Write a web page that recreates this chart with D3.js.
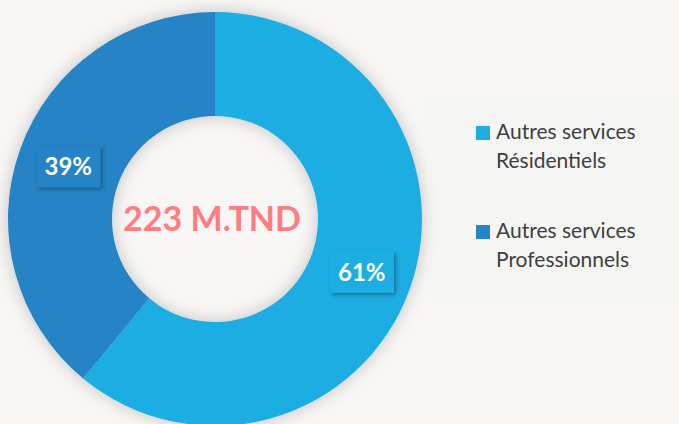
<!DOCTYPE html>
<html>
<head>
<meta charset="utf-8">
<script src="https://cdn.jsdelivr.net/npm/d3@7"></script>
<style>
  body { margin: 0; background: #f7f6f5; }
  svg { display: block; }
</style>
</head>
<body>
<svg id="chart" width="679" height="424"></svg>
<script>
var categories = ["Autres services Résidentiels", "Autres services Professionnels"];
var legendLines = [["Autres services", "Résidentiels"], ["Autres services", "Professionnels"]];
var values = [61, 39];
var colors = ["#1fade3", "#2784c6"];
var centerLabel = "223 M.TND";

var svg = d3.select("#chart");
var cx = 215, cy = 219, outerR = 207, innerR = 103;
var font = "Lato, 'Open Sans', sans-serif";

var defs = svg.append("defs");
var shadow = defs.append("filter").attr("id", "shadow")
    .attr("x", "-20%").attr("y", "-20%").attr("width", "140%").attr("height", "140%");
shadow.append("feDropShadow").attr("dx", 0).attr("dy", 0)
    .attr("stdDeviation", 8).attr("flood-color", "#000").attr("flood-opacity", 0.22);

var boxShadow = defs.append("filter").attr("id", "boxshadow")
    .attr("x", "-30%").attr("y", "-30%").attr("width", "160%").attr("height", "160%");
boxShadow.append("feDropShadow").attr("dx", 2).attr("dy", 2)
    .attr("stdDeviation", 2).attr("flood-color", "#000").attr("flood-opacity", 0.35);

// legend panel, barely visible
svg.append("rect")
    .attr("x", 430).attr("y", 97).attr("width", 249).attr("height", 200)
    .attr("fill", "#f5f5f4");

var pie = d3.pie().sort(null).value(function (d) { return d; });
var arcs = pie(values);
var arc = d3.arc().innerRadius(innerR).outerRadius(outerR);

var g = svg.append("g").attr("transform", "translate(" + cx + "," + cy + ")");

g.append("g").attr("filter", "url(#shadow)")
    .selectAll("path")
    .data(arcs)
    .enter().append("path")
    .attr("d", arc)
    .attr("fill", function (d, i) { return colors[i]; });

// percentage boxes
var labelArc = d3.arc().innerRadius(156).outerRadius(156);
arcs.forEach(function (d, i) {
    var p = labelArc.centroid(d);
    var lg = g.append("g").attr("transform", "translate(" + p[0] + "," + p[1] + ")");
    lg.append("rect")
        .attr("x", -32).attr("y", -21).attr("width", 64).attr("height", 42)
        .attr("fill", colors[i])
        .attr("filter", "url(#boxshadow)");
    lg.append("text")
        .attr("text-anchor", "middle")
        .attr("y", 9)
        .attr("fill", "#fff")
        .attr("font-family", font)
        .attr("font-weight", "bold")
        .attr("font-size", 24)
        .text(d3.format(".0f")(d.data) + "%");
});

g.append("text")
    .attr("text-anchor", "middle")
    .attr("x", -3)
    .attr("y", 12)
    .attr("fill", "#ff7c80")
    .attr("font-family", font)
    .attr("font-weight", "bold")
    .attr("font-size", 34)
    .text(centerLabel);

// legend
var legend = svg.append("g").attr("transform", "translate(476,126)");
var item = legend.selectAll("g")
    .data(categories)
    .enter().append("g")
    .attr("transform", function (d, i) { return "translate(0," + (i * 99) + ")"; });

item.append("rect")
    .attr("width", 14).attr("height", 14)
    .attr("fill", function (d, i) { return colors[i]; });

item.each(function (d, i) {
    var t = d3.select(this).append("text")
        .attr("font-family", font)
        .attr("font-size", 21)
        .attr("fill", "#404040");
    legendLines[i].forEach(function (line, j) {
        t.append("tspan").attr("x", 20).attr("y", 13 + j * 29).text(line);
    });
});
</script>
</body>
</html>
